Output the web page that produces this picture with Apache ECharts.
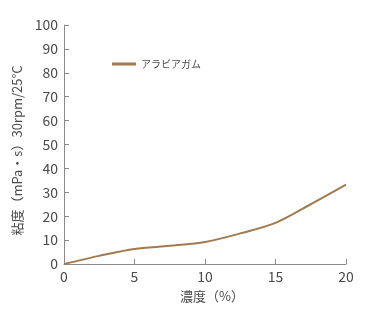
<!DOCTYPE html>
<html>
<head>
<meta charset="utf-8">
<script src="https://cdn.jsdelivr.net/npm/echarts@6/dist/echarts.min.js"></script>
<style>
  html, body { margin: 0; padding: 0; background: #fff; }
  #chart { width: 380px; height: 310px; }
</style>
</head>
<body>
<div id="chart"></div>
<script>
// 濃度（%）
const concentration = [0, 2.5, 5, 7.5, 10, 12.5, 15, 17.5, 20]
// 粘度 mPa・s
const viscosity = [0, 3.4, 6.3, 7.6, 9.2, 12.8, 17.2, 25, 33.2]
const seriesName = 'アラビアガム'

const lineColor = '#a27a4f'
const axisColor = '#8a8a8a'
const labelColor = '#4a4a4a'
const font = '"Noto Sans CJK JP", "Noto Sans", sans-serif'

let chart = echarts.init(document.getElementById('chart'))
let option = {
  animation: false,
  grid: {
    left: 64,
    right: 34,
    top: 25,
    bottom: 46
  },
  legend: {
    left: 107,
    top: 54,
    itemWidth: 24,
    itemHeight: 3,
    itemGap: 5,
    textStyle: {color: labelColor, fontSize: 10, fontFamily: font},
    data: [{name: seriesName, icon: 'rect'}]
  },
  xAxis: {
    type: 'value',
    min: 0,
    max: 20,
    interval: 5,
    name: '濃度（%）',
    nameLocation: 'middle',
    nameGap: 26,
    nameTextStyle: {color: labelColor, fontSize: 13, fontFamily: font, padding: [0, 0, 0, 14]},
    axisLine: {lineStyle: {color: axisColor, width: 1}},
    axisTick: {show: true, inside: true, length: 5, lineStyle: {color: axisColor}},
    axisLabel: {color: labelColor, fontSize: 14, fontFamily: font, margin: 6},
    splitLine: {show: false}
  },
  yAxis: {
    type: 'value',
    min: 0,
    max: 100,
    interval: 10,
    name: '粘度（mPa・s）30rpm/25°C',
    nameLocation: 'middle',
    nameGap: 37,
    nameTextStyle: {color: labelColor, fontSize: 13, fontFamily: font, padding: [0, 12, 0, 0]},
    axisLine: {show: true, lineStyle: {color: axisColor, width: 1}},
    axisTick: {show: true, inside: true, length: 5, lineStyle: {color: axisColor}},
    axisLabel: {color: labelColor, fontSize: 14, fontFamily: font, margin: 6},
    splitLine: {show: false}
  },
  series: [
    {
      name: seriesName,
      type: 'line',
      data: concentration.map((c, i) => [c, viscosity[i]]),
      smooth: 0.3,
      symbol: 'none',
      lineStyle: {color: lineColor, width: 2},
      itemStyle: {color: lineColor}
    }
  ]
}
chart.setOption(option)
</script>
</body>
</html>
